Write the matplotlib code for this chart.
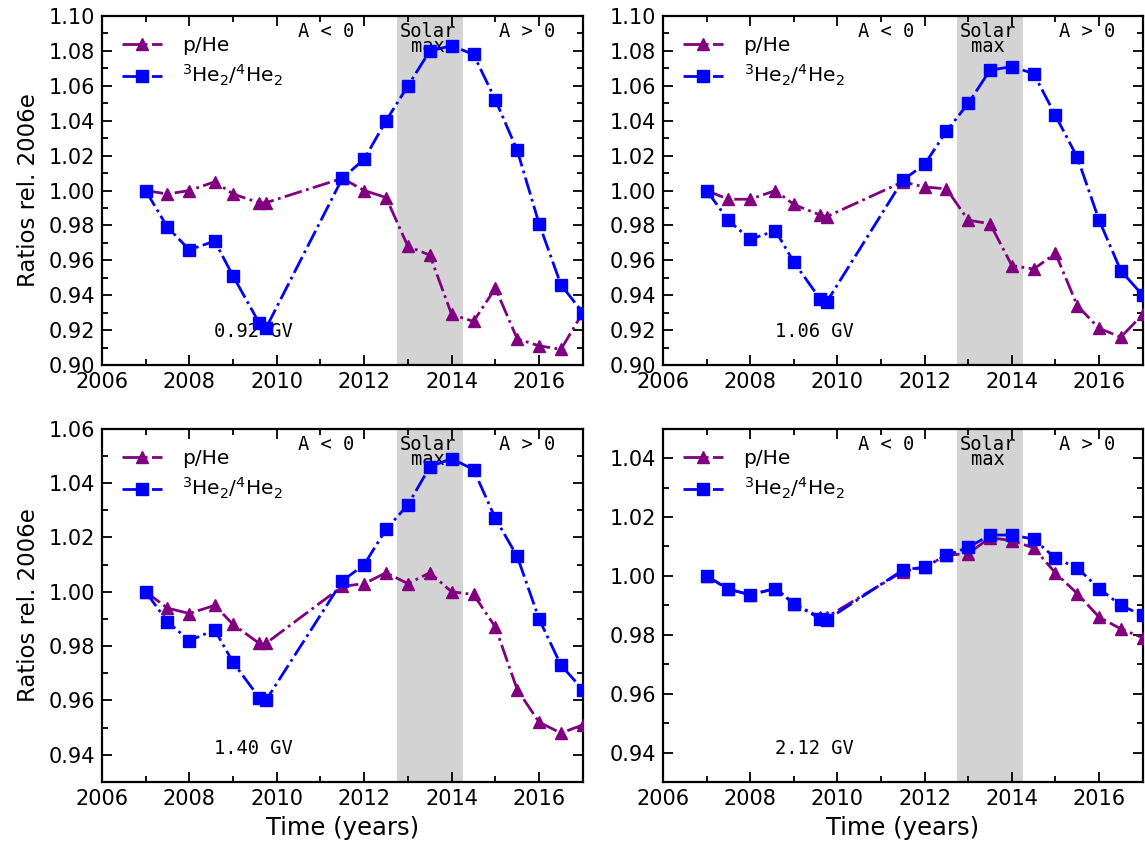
import numpy as np
import matplotlib.pyplot as plt
from matplotlib.ticker import MultipleLocator

# observation epochs (years)
years = [2007.0, 2007.5, 2008.0, 2008.58, 2009.0, 2009.6, 2009.75, 2011.5, 2012.0,
         2012.5, 2013.0, 2013.5, 2014.0, 2014.5, 2015.0, 2015.5, 2016.0, 2016.5, 2017.0]

# p/He ratios normalised to 2006e
phe_092 = [1.000, 0.998, 1.000, 1.005, 0.998, 0.993, 0.993, 1.007, 1.000,
           0.996, 0.968, 0.963, 0.929, 0.925, 0.944, 0.915, 0.911, 0.909, 0.930]
phe_106 = [1.000, 0.995, 0.995, 1.000, 0.992, 0.986, 0.985, 1.005, 1.002,
           1.001, 0.983, 0.981, 0.957, 0.955, 0.964, 0.934, 0.921, 0.916, 0.929]
phe_140 = [1.000, 0.994, 0.992, 0.995, 0.988, 0.981, 0.981, 1.002, 1.003,
           1.007, 1.003, 1.007, 1.000, 0.999, 0.987, 0.964, 0.952, 0.948, 0.951]
phe_212 = [1.000, 0.9955, 0.9936, 0.9957, 0.9906, 0.986, 0.986, 1.0015, 1.003,
           1.007, 1.0076, 1.013, 1.012, 1.0095, 1.001, 0.994, 0.986, 0.982, 0.979]

# 3He/4He ratios normalised to 2006e
he3_092 = [1.000, 0.979, 0.966, 0.971, 0.951, 0.924, 0.921, 1.007, 1.018,
           1.040, 1.060, 1.080, 1.083, 1.078, 1.052, 1.023, 0.981, 0.946, 0.930]
he3_106 = [1.000, 0.983, 0.972, 0.977, 0.959, 0.938, 0.936, 1.006, 1.015,
           1.034, 1.050, 1.069, 1.071, 1.067, 1.043, 1.019, 0.983, 0.954, 0.940]
he3_140 = [1.000, 0.989, 0.982, 0.986, 0.974, 0.961, 0.960, 1.004, 1.010,
           1.023, 1.032, 1.046, 1.049, 1.045, 1.027, 1.013, 0.990, 0.973, 0.964]
he3_212 = [1.000, 0.9955, 0.9936, 0.9957, 0.9906, 0.9855, 0.985, 1.002, 1.003,
           1.007, 1.0097, 1.0139, 1.0139, 1.0125, 1.006, 1.0027, 0.9957, 0.990, 0.9866]

rigidities = ['0.92 GV', '1.06 GV', '1.40 GV', '2.12 GV']
phe_sets = [phe_092, phe_106, phe_140, phe_212]
he3_sets = [he3_092, he3_106, he3_140, he3_212]
ylims = [(0.90, 1.10), (0.90, 1.10), (0.93, 1.06), (0.93, 1.05)]

solar_max = (2012.75, 2014.25)

purple = '#800080'
blue = '#0000FF'

fig = plt.figure(figsize=(11.45, 8.44), dpi=100)

# axes boxes in figure fractions: left, bottom, width, height
boxes = [[0.089, 0.5675, 0.420, 0.4135],
         [0.579, 0.5675, 0.419, 0.4135],
         [0.089, 0.0735, 0.420, 0.4185],
         [0.579, 0.0735, 0.419, 0.4185]]

for i in range(4):
    ax = fig.add_axes(boxes[i])

    ax.axvspan(solar_max[0], solar_max[1], color='#d3d3d3', lw=0, zorder=0)

    ax.plot(years, phe_sets[i], color=purple, linestyle='-.', lw=2,
            marker='^', markersize=8, label='p/He', zorder=3)
    ax.plot(years, he3_sets[i], color=blue, linestyle='-.', lw=2,
            marker='s', markersize=8, label=r'$^3$He$_2$/$^4$He$_2$', zorder=4)

    ax.set_xlim(2006, 2017)
    ax.set_ylim(*ylims[i])
    ax.xaxis.set_major_locator(MultipleLocator(2))
    ax.xaxis.set_minor_locator(MultipleLocator(1))
    ax.yaxis.set_major_locator(MultipleLocator(0.02))
    ax.yaxis.set_minor_locator(MultipleLocator(0.01))
    ax.tick_params(which='both', direction='in', top=True, right=True, labelsize=15)
    ax.tick_params(which='major', length=7, width=1.3, pad=5)
    ax.tick_params(which='minor', length=4, width=1.3)
    for side in ['top', 'bottom', 'left', 'right']:
        ax.spines[side].set_linewidth(1.6)

    # polarity epochs and the solar maximum band
    ax.text(0.466, 0.955, 'A < 0', transform=ax.transAxes, ha='center', va='center',
            family='DejaVu Sans Mono', fontsize=13.5)
    ax.text(0.678, 0.935, 'Solar\nmax', transform=ax.transAxes, ha='center', va='center',
            family='DejaVu Sans Mono', fontsize=13.5, linespacing=0.75, zorder=2)
    ax.text(0.884, 0.955, 'A > 0', transform=ax.transAxes, ha='center', va='center',
            family='DejaVu Sans Mono', fontsize=13.5)
    ax.text(0.315, 0.095, rigidities[i], transform=ax.transAxes, ha='center', va='center',
            family='DejaVu Sans Mono', fontsize=13.5)

    ax.legend(loc='upper left', frameon=False, fontsize=14.5, handlelength=2.0,
              borderaxespad=0.6, labelspacing=0.4, handletextpad=1.0)

    if i % 2 == 0:
        ax.set_ylabel('Ratios rel. 2006e', fontsize=16.5, labelpad=6)
    if i >= 2:
        ax.set_xlabel('Time (years)', fontsize=17.5, labelpad=5)

plt.savefig('out.png', dpi=100)
